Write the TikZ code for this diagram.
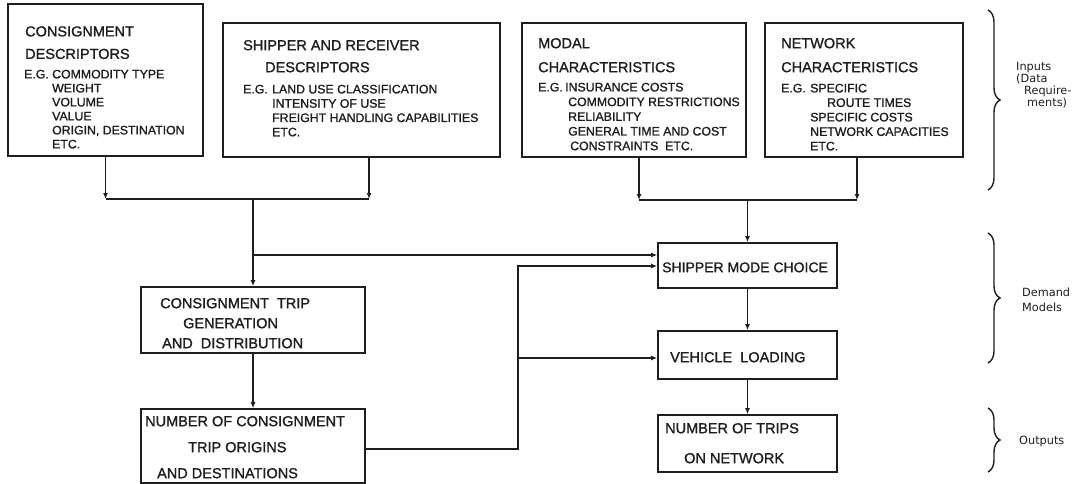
\documentclass[tikz,border=0pt]{standalone}
\usepackage{fontspec}
\setmainfont{Liberation Sans}[RawFeature={embolden=1.2}]
\newfontfamily\labelfont{DejaVu Sans}
\usetikzlibrary{arrows.meta,decorations.pathreplacing}
\definecolor{ink}{HTML}{1E1E1E}
\newcommand\rows[3]{{\fontsize{#1}{#2}\selectfont\begin{tabular}[t]{@{}l@{}}#3\end{tabular}}}
\begin{document}
\begin{tikzpicture}[x=1pt,y=-1pt,
  every node/.style={text=ink},
  box/.style={draw=ink,line width=1.7pt,rectangle,inner sep=0pt},
  txt/.style={anchor=base west,inner sep=0pt},
  conn/.style={draw=ink,line width=1.3pt},
  arr/.style={conn,-{Latex[length=6pt,width=5pt]}},
  brc/.style={draw=ink,line width=1.4pt,decorate,decoration={brace,amplitude=12pt,aspect=0.5}}]
\fill[white] (0,0) rectangle (1083,484);
\useasboundingbox (0,0) rectangle (1083,484);

% input boxes
\node[box,minimum width=195pt,minimum height=152pt] (b1) at (105.5,80) {};
\node[box,minimum width=277pt,minimum height=134pt] (b2) at (361.5,90) {};
\node[box,minimum width=224pt,minimum height=134pt] (b3) at (634,90) {};
\node[box,minimum width=198pt,minimum height=134pt] (b4) at (864,90) {};

\node[txt] (b1t) at (25,36.4) {\rows{14.5}{22.5}{CONSIGNMENT\\DESCRIPTORS}};
\node[txt] (b1e) at (24,78.4) {\rows{12.3}{14}{E.G.}};
\node[txt] (b1d) at (52,78.4) {\rows{12.3}{14}{COMMODITY TYPE\\WEIGHT\\VOLUME\\VALUE\\ORIGIN, DESTINATION\\ETC.}};

\node[txt] (b2t) at (243,50.2) {\rows{14.5}{22}{SHIPPER AND RECEIVER\\\hspace*{22pt}DESCRIPTORS}};
\node[txt] (b2e) at (243,93.4) {\rows{12.3}{14.3}{E.G.}};
\node[txt] (b2d) at (272,93.4) {\rows{12.3}{14.3}{LAND USE CLASSIFICATION\\INTENSITY OF USE\\FREIGHT HANDLING CAPABILITIES\\ETC.}};

\node[txt] (b3t) at (538,48.2) {\rows{14.5}{24}{MODAL\\CHARACTERISTICS}};
\node[txt] (b3e) at (538,91.4) {\rows{12.3}{14.7}{E.G.}};
\node[txt] (b3d) at (565,91.4) {\rows{12.3}{14.7}{INSURANCE COSTS\\\hspace*{3pt}COMMODITY RESTRICTIONS\\\hspace*{3pt}RELIABILITY\\\hspace*{3pt}GENERAL TIME AND COST\\\hspace*{5pt}CONSTRAINTS\ \ ETC.}};

\node[txt] (b4t) at (781,48.2) {\rows{14.5}{24}{NETWORK\\CHARACTERISTICS}};
\node[txt] (b4e) at (781,92.4) {\rows{12.3}{14.5}{E.G.}};
\node[txt] (b4d) at (810,92.4) {\rows{12.3}{14.5}{SPECIFIC\\\hspace*{17pt}ROUTE TIMES\\SPECIFIC COSTS\\NETWORK CAPACITIES\\ETC.}};

% model boxes
\node[box,minimum width=224pt,minimum height=66pt] (ctgd) at (253,320) {};
\node[box,minimum width=224pt,minimum height=74pt] (num) at (253,446) {};
\node[box,minimum width=179pt,minimum height=45pt] (smc) at (747.5,265.5) {};
\node[box,minimum width=179pt,minimum height=48pt] (vl) at (747.5,355) {};
\node[box,minimum width=179pt,minimum height=57pt] (ntn) at (747.5,443.5) {};

\node[txt] (ctgdt) at (160,308.2) {\rows{14.5}{20}{CONSIGNMENT\ \ TRIP\\\hspace*{23pt}GENERATION\\\hspace*{2pt}AND\ \ DISTRIBUTION}};
\node[txt] (numt) at (145,426.2) {\rows{14.5}{26}{NUMBER OF CONSIGNMENT\\\hspace*{43pt}TRIP ORIGINS\\\hspace*{12pt}AND DESTINATIONS}};
\node[txt] (smct) at (662,272.2) {\rows{14}{20}{SHIPPER MODE CHOICE}};
\node[txt] (vlt) at (670,362.2) {\rows{14.5}{20}{VEHICLE\ \ LOADING}};
\node[txt] (ntnt) at (665,433.2) {\rows{14.5}{30}{NUMBER OF TRIPS\\\hspace*{19pt}ON NETWORK}};

% junctions
\coordinate (jLa) at (105.5,199);
\coordinate (jLb) at (369,199);
\coordinate (jL) at (253,199);
\coordinate (jB) at (253,255);
\coordinate (jR1) at (518,449);
\coordinate (jR2) at (518,266);
\coordinate (jR3) at (518,358);
\coordinate (kA) at (639,200);
\coordinate (kB) at (857,200);
\coordinate (kM) at (747.5,200);

% left connectors
\draw[arr] (b1.south -| jLa) -- (jLa);
\draw[arr] (b2.south -| jLb) -- (jLb);
\draw[conn] (jLa) -- (jLb);
\draw[arr] (jL) -- (ctgd.north);
\draw[arr] (jB) -- (smc.west |- jB);
\draw[arr] (ctgd.south) -- (num.north);
\draw[arr] (num.east |- jR1) -- (jR1) -- (jR2) -- (smc.west |- jR2);
\draw[arr] (jR3) -- (vl.west |- jR3);

% right connectors
\draw[arr] (b3.south -| kA) -- (kA);
\draw[arr] (b4.south -| kB) -- (kB);
\draw[conn] (kA) -- (kB);
\draw[arr] (kM) -- (smc.north);
\draw[arr] (smc.south) -- (vl.north);
\draw[arr] (vl.south) -- (ntn.north);

% braces
\coordinate (bi1) at (988,10);
\coordinate (bi2) at (988,190);
\coordinate (bd1) at (988,233);
\coordinate (bd2) at (988,363);
\coordinate (bo1) at (988,408);
\coordinate (bo2) at (988,472);
\draw[brc] (bi1) -- (bi2);
\draw[brc] (bd1) -- (bd2);
\draw[brc] (bo1) -- (bo2);

\node[txt] (linp) at (1016,71) {\labelfont\rows{11.3}{11}{Inputs\\(Data\\\hspace*{8pt}Require-\\\hspace*{11pt}ments)}};
\node[txt] (ldem) at (1022,296) {\labelfont\rows{11.3}{15}{Demand\\Models}};
\node[txt] (lout) at (1019,444) {\labelfont\rows{11.3}{15}{Outputs}};
\end{tikzpicture}
\end{document}
